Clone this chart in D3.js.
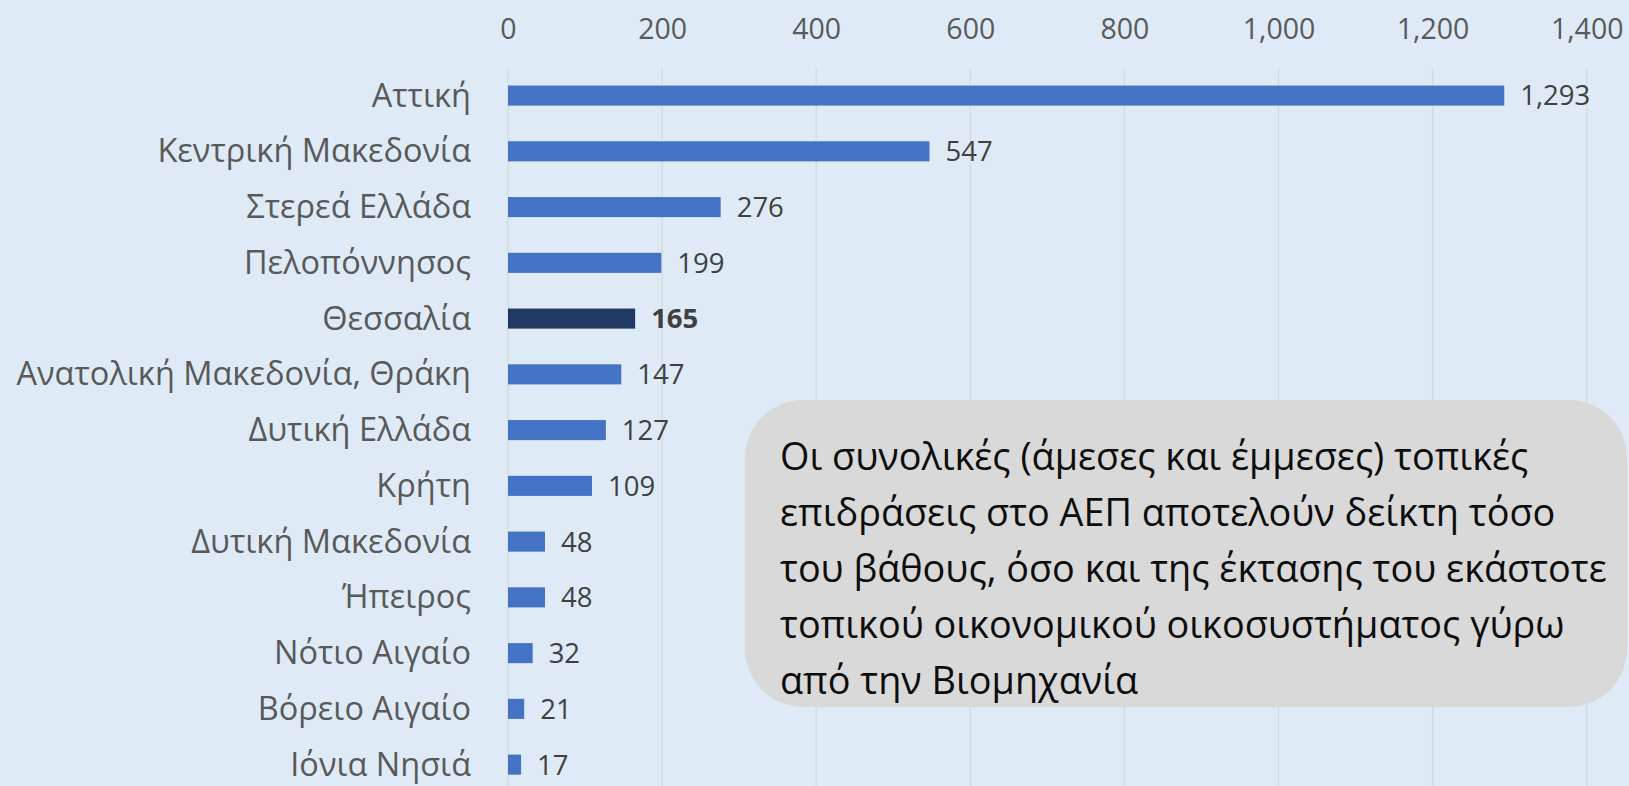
<!DOCTYPE html>
<html><head><meta charset="utf-8">
<script src="https://cdn.jsdelivr.net/npm/d3@7"></script>
<style>html,body{margin:0;padding:0;background:#DEEBF7;overflow:hidden}</style>
</head><body>
<svg id="c" width="1629" height="786"></svg>
<script>
const categories = ["Αττική","Κεντρική Μακεδονία","Στερεά Ελλάδα","Πελοπόννησος","Θεσσαλία","Ανατολική Μακεδονία, Θράκη","Δυτική Ελλάδα","Κρήτη","Δυτική Μακεδονία","Ήπειρος","Νότιο Αιγαίο","Βόρειο Αιγαίο","Ιόνια Νησιά"];
const values = [1293,547,276,199,165,147,127,109,48,48,32,21,17];
const highlighted = ["Θεσσαλία"];
const tickValues = [0,200,400,600,800,1000,1200,1400];
const noteLines = ["Οι συνολικές (άμεσες και έμμεσες) τοπικές","επιδράσεις στο ΑΕΠ αποτελούν δείκτη τόσο","του βάθους, όσο και της έκτασης του εκάστοτε","τοπικού οικονομικού οικοσυστήματος γύρω","από την Βιομηχανία"];

const svg = d3.select("#c");
const font = "'Open Sans', sans-serif";
svg.append("rect").attr("width",1629).attr("height",786).attr("fill","#DEEBF7");

const x = d3.scaleLinear().domain([0,1400]).range([508,1586.7]);
const y = d3.scaleBand().domain(categories).range([67.7,792.5]).paddingInner(0.64).paddingOuter(0.32);

// gridlines
svg.append("g").selectAll("line").data(tickValues).join("line")
  .attr("x1",d=>x(d)).attr("x2",d=>x(d)).attr("y1",68).attr("y2",786)
  .attr("stroke","#D6D9DC").attr("stroke-width",1.3);

// top axis
const ax = svg.append("g").attr("transform","translate(0,39)")
  .call(d3.axisTop(x).tickValues(tickValues).tickSize(0).tickPadding(0).tickFormat(d3.format(",")));
ax.select(".domain").remove();
ax.selectAll("text").attr("font-family",font).attr("font-size",28.5).attr("fill","#595959");

// bars
svg.append("g").selectAll("rect").data(categories).join("rect")
  .attr("x",x(0)).attr("y",d=>y(d)).attr("height",y.bandwidth())
  .attr("width",(d,i)=>x(values[i])-x(0))
  .attr("fill",d=>highlighted.includes(d)?"#203864":"#4472C4");

// value labels
svg.append("g").selectAll("text").data(categories).join("text")
  .attr("x",(d,i)=>x(values[i])+16).attr("y",d=>y(d)+y.bandwidth()/2)
  .attr("dy","0.36em").attr("font-family",font).attr("font-size",27.5)
  .attr("font-weight",d=>highlighted.includes(d)?"bold":"normal")
  .attr("fill","#404040").text((d,i)=>d3.format(",")(values[i]));

// category labels
const ya = svg.append("g").attr("transform","translate(471,0)")
  .call(d3.axisLeft(y).tickSize(0).tickPadding(0));
ya.select(".domain").remove();
ya.selectAll("text").attr("font-family",font).attr("font-size",32.5).attr("fill","#595959").attr("dy","0.34em");

// note box
svg.append("rect").attr("x",745).attr("y",400).attr("width",882).attr("height",307)
  .attr("rx",58).attr("ry",58).attr("fill","#D9D9D9");
svg.append("g").selectAll("text").data(noteLines).join("text")
  .attr("x",780).attr("y",(d,i)=>457+i*56).attr("dy","0.35em")
  .attr("font-family",font).attr("font-size",37.8).attr("fill","#0D0D0D")
  .text(d=>d);
</script>
</body></html>
